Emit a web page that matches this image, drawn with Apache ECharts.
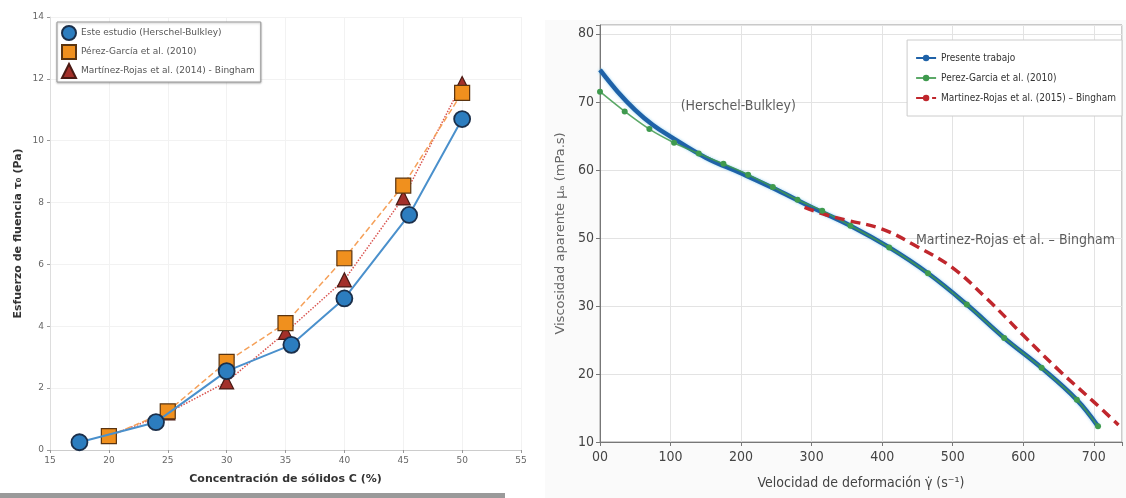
<!DOCTYPE html>
<html>
<head>
<meta charset="utf-8">
<script src="https://cdn.jsdelivr.net/npm/echarts@6/dist/echarts.min.js"></script>
<style>
  html, body { margin: 0; padding: 0; background: #fff; }
  #chart { width: 1126px; height: 498px; }
</style>
</head>
<body>
<div id="chart"></div>
<script>
// ---- panel izquierdo: esfuerzo de fluencia vs concentracion ----
var concEste = [17.5, 24, 30, 35.5, 40, 45.5, 50];
var tauEste = [0.25, 0.9, 2.55, 3.4, 4.9, 7.6, 10.7];
var concPerez = [20, 25, 30, 35, 40, 45, 50];
var tauPerez = [0.45, 1.25, 2.85, 4.1, 6.2, 8.55, 11.55];
var concMartinez = [20, 25, 30, 35, 40, 45, 50];
var tauMartinez = [0.45, 1.2, 2.2, 3.8, 5.5, 8.15, 11.85];

// ---- panel derecho: viscosidad aparente vs velocidad de deformacion ----
// etiquetas del eje y tal como aparecen (espaciado uniforme, sin el 40)
var viscTicks = [10, 20, 30, 50, 60, 70, 80];
var rateTicks = ['00', '100', '200', '300', '400', '500', '600', '700'];

var ratePresente = [0, 25, 50, 75, 100, 150, 200, 250, 300, 355, 410, 465, 520, 573, 626, 676, 706];
var viscPresente = [74.7, 71.5, 68.8, 66.6, 64.9, 61.8, 59.5, 57.1, 54.5, 51.8, 47.2, 39.6, 30.4, 25.3, 20.9, 16.2, 12.3];
var ratePerez = [0, 35, 70, 105, 140, 175, 210, 245, 280, 315, 355, 410, 465, 520, 573, 626, 676, 706];
var viscPerez = [71.5, 68.6, 66, 64, 62.4, 60.9, 59.3, 57.5, 55.6, 54, 51.8, 47.2, 39.6, 30.4, 25.3, 20.9, 16.2, 12.3];
var rateMartinez = [290, 320, 350, 400, 450, 500, 550, 600, 650, 700, 735];
var viscMartinez = [54.5, 53.4, 52.6, 51.3, 47.4, 41.2, 31.8, 25.7, 20.6, 15.9, 12.5];

// posicion en el eje (indice de la etiqueta) a partir del valor
function toPos(v) {
  var n = viscTicks.length;
  for (var i = 0; i < n - 1; i++) {
    if (v <= viscTicks[i + 1] || i === n - 2) {
      return i + (v - viscTicks[i]) / (viscTicks[i + 1] - viscTicks[i]);
    }
  }
}
function zipPos(xs, ys) {
  return xs.map(function (x, i) { return [x, toPos(ys[i])]; });
}
function zip(xs, ys) {
  return xs.map(function (x, i) { return [x, ys[i]]; });
}

var narrow = 'DejaVu Sans Condensed, Liberation Sans Narrow, Liberation Sans, sans-serif';
var chart = echarts.init(document.getElementById('chart'));

var option = {
  backgroundColor: '#fff',
  animation: false,
  graphic: [
    { type: 'rect', shape: { x: 0, y: 493, width: 505, height: 5 }, style: { fill: '#9a9a9a' }, silent: true },
    { type: 'rect', shape: { x: 545, y: 20, width: 581, height: 478 }, style: { fill: '#fafafa' }, silent: true, z: -10 }
  ],
  legend: [
    {
      left: 57, top: 22, orient: 'vertical',
      padding: [3, 6, 3, 4], itemGap: 3, itemWidth: 14, itemHeight: 14,
      borderColor: '#999', borderWidth: 1, backgroundColor: '#fff',
      shadowColor: 'rgba(0,0,0,0.25)', shadowBlur: 2, shadowOffsetY: 1,
      textStyle: { fontFamily: 'DejaVu Sans', fontSize: 9, color: '#555' },
      data: [
        { name: 'Este estudio (Herschel-Bulkley)', icon: 'circle' },
        { name: 'Pérez-García et al. (2010)', icon: 'rect' },
        { name: 'Martínez-Rojas et al. (2014) - Bingham', icon: 'triangle' }
      ]
    },
    {
      right: 4, top: 40, orient: 'vertical',
      padding: [13, 6, 13, 8], itemGap: 10, itemWidth: 20, itemHeight: 8,
      borderColor: '#ccc', borderWidth: 1, backgroundColor: '#fff',
      textStyle: { fontFamily: narrow, fontSize: 10, color: '#333' },
      data: ['Presente trabajo', 'Perez-Garcia et al. (2010)', 'Martinez-Rojas et al. (2015) – Bingham']
    }
  ],
  grid: [
    { left: 50, top: 17, width: 471, height: 433 },
    { left: 600, top: 25, right: 4, bottom: 56, show: true, borderColor: '#999', borderWidth: 1, backgroundColor: '#fff' }
  ],
  xAxis: [
    {
      gridIndex: 0, type: 'value', min: 15, max: 55, interval: 5,
      name: 'Concentración de sólidos C (%)', nameLocation: 'middle', nameGap: 24,
      nameTextStyle: { fontFamily: 'DejaVu Sans', fontWeight: 'bold', fontSize: 11, color: '#333' },
      axisLine: { lineStyle: { color: '#ccc' } },
      axisTick: { show: true, length: 3, lineStyle: { color: '#999' } },
      axisLabel: { fontFamily: 'DejaVu Sans', fontSize: 9, color: '#666', margin: 6 },
      splitLine: { show: true, lineStyle: { color: '#f2f2f2' } }
    },
    {
      gridIndex: 1, type: 'value', min: 0, max: 740, interval: 100,
      name: 'Velocidad de deformación γ̇ (s⁻¹)', nameLocation: 'middle', nameGap: 34,
      nameTextStyle: { fontFamily: narrow, fontSize: 14, color: '#444' },
      axisLine: { onZero: false, lineStyle: { color: '#777' } },
      axisTick: { show: true, length: 4, lineStyle: { color: '#777' } },
      axisLabel: {
        fontFamily: narrow, fontSize: 14, color: '#444', margin: 8,
        formatter: function (v) { return v % 100 === 0 ? rateTicks[v / 100] : ''; }
      },
      splitLine: { show: true, lineStyle: { color: '#e3e3e3' } }
    }
  ],
  yAxis: [
    {
      gridIndex: 0, type: 'value', min: 0, max: 14, interval: 2,
      name: 'Esfuerzo de fluencia τ₀ (Pa)', nameLocation: 'middle', nameGap: 26,
      nameTextStyle: { fontFamily: 'DejaVu Sans', fontWeight: 'bold', fontSize: 11, color: '#333' },
      axisLine: { show: true, lineStyle: { color: '#ddd' } },
      axisTick: { show: true, length: 3, lineStyle: { color: '#999' } },
      axisLabel: { fontFamily: 'DejaVu Sans', fontSize: 9, color: '#666', margin: 6 },
      splitLine: { show: true, lineStyle: { color: '#f2f2f2' } }
    },
    {
      gridIndex: 1, type: 'value', min: 0, max: 6.13, interval: 1,
      name: 'Viscosidad aparente μₐ (mPa.s)', nameLocation: 'middle', nameGap: 33,
      nameTextStyle: { fontFamily: 'DejaVu Sans', fontSize: 13, color: '#666' },
      axisLine: { show: true, onZero: false, lineStyle: { color: '#777' } },
      axisTick: { show: true, length: 4, lineStyle: { color: '#777' } },
      axisLabel: {
        fontFamily: narrow, fontSize: 14, color: '#444', margin: 6,
        formatter: function (v) { return Number.isInteger(v) ? String(viscTicks[v]) : ''; }
      },
      splitLine: { show: true, lineStyle: { color: '#e3e3e3' } }
    }
  ],
  series: [
    {
      name: 'Martínez-Rojas et al. (2014) - Bingham', type: 'line', xAxisIndex: 0, yAxisIndex: 0,
      data: zip(concMartinez, tauMartinez), z: 2,
      symbol: 'triangle', symbolSize: 14,
      lineStyle: { color: '#d9534f', width: 1.5, type: 'dotted' },
      itemStyle: { color: '#a3302a', borderColor: '#4a1a14', borderWidth: 1.2 }
    },
    {
      name: 'Pérez-García et al. (2010)', type: 'line', xAxisIndex: 0, yAxisIndex: 0,
      data: zip(concPerez, tauPerez), z: 3,
      symbol: 'rect', symbolSize: 15,
      lineStyle: { color: '#f5a15a', width: 1.5, type: 'dashed' },
      itemStyle: { color: '#f0901e', borderColor: '#5a3410', borderWidth: 1.2 }
    },
    {
      name: 'Este estudio (Herschel-Bulkley)', type: 'line', xAxisIndex: 0, yAxisIndex: 0,
      data: zip(concEste, tauEste), z: 4,
      symbol: 'circle', symbolSize: 16,
      lineStyle: { color: '#4a90cc', width: 2 },
      itemStyle: { color: '#2c7dbf', borderColor: '#1b2f4a', borderWidth: 1.8 }
    },
    {
      name: 'Presente trabajo', type: 'line', xAxisIndex: 1, yAxisIndex: 1,
      data: zipPos(ratePresente, viscPresente), smooth: 0.4, showSymbol: false,
      symbol: 'circle', symbolSize: 7,
      lineStyle: { color: '#1f62a8', width: 4.5, shadowColor: 'rgba(80,180,230,0.6)', shadowBlur: 3 },
      itemStyle: { color: '#1f62a8' }
    },
    {
      name: 'Perez-Garcia et al. (2010)', type: 'line', xAxisIndex: 1, yAxisIndex: 1,
      data: zipPos(ratePerez, viscPerez), smooth: 0.3,
      symbol: 'circle', symbolSize: 6, showAllSymbol: true,
      lineStyle: { color: '#3f9a4e', width: 1.6, opacity: 0.85 },
      itemStyle: { color: '#3f9a4e' }
    },
    {
      name: 'Martinez-Rojas et al. (2015) – Bingham', type: 'line', xAxisIndex: 1, yAxisIndex: 1,
      data: zipPos(rateMartinez, viscMartinez), smooth: 0.4, showSymbol: false,
      symbol: 'circle', symbolSize: 7,
      lineStyle: { color: '#c0272d', width: 3.5, type: [10, 6] },
      itemStyle: { color: '#c0272d' }
    },
    {
      type: 'scatter', xAxisIndex: 1, yAxisIndex: 1, silent: true, symbolSize: 0,
      data: [
        { value: [196, toPos(69.3)], label: { formatter: '(Herschel-Bulkley)' } },
        { value: [589, toPos(49.4)], label: { formatter: 'Martinez-Rojas et al. – Bingham' } }
      ],
      label: { show: true, position: 'inside', fontFamily: narrow, fontSize: 14, color: '#333' }
    }
  ]
};

chart.setOption(option);
</script>
</body>
</html>
